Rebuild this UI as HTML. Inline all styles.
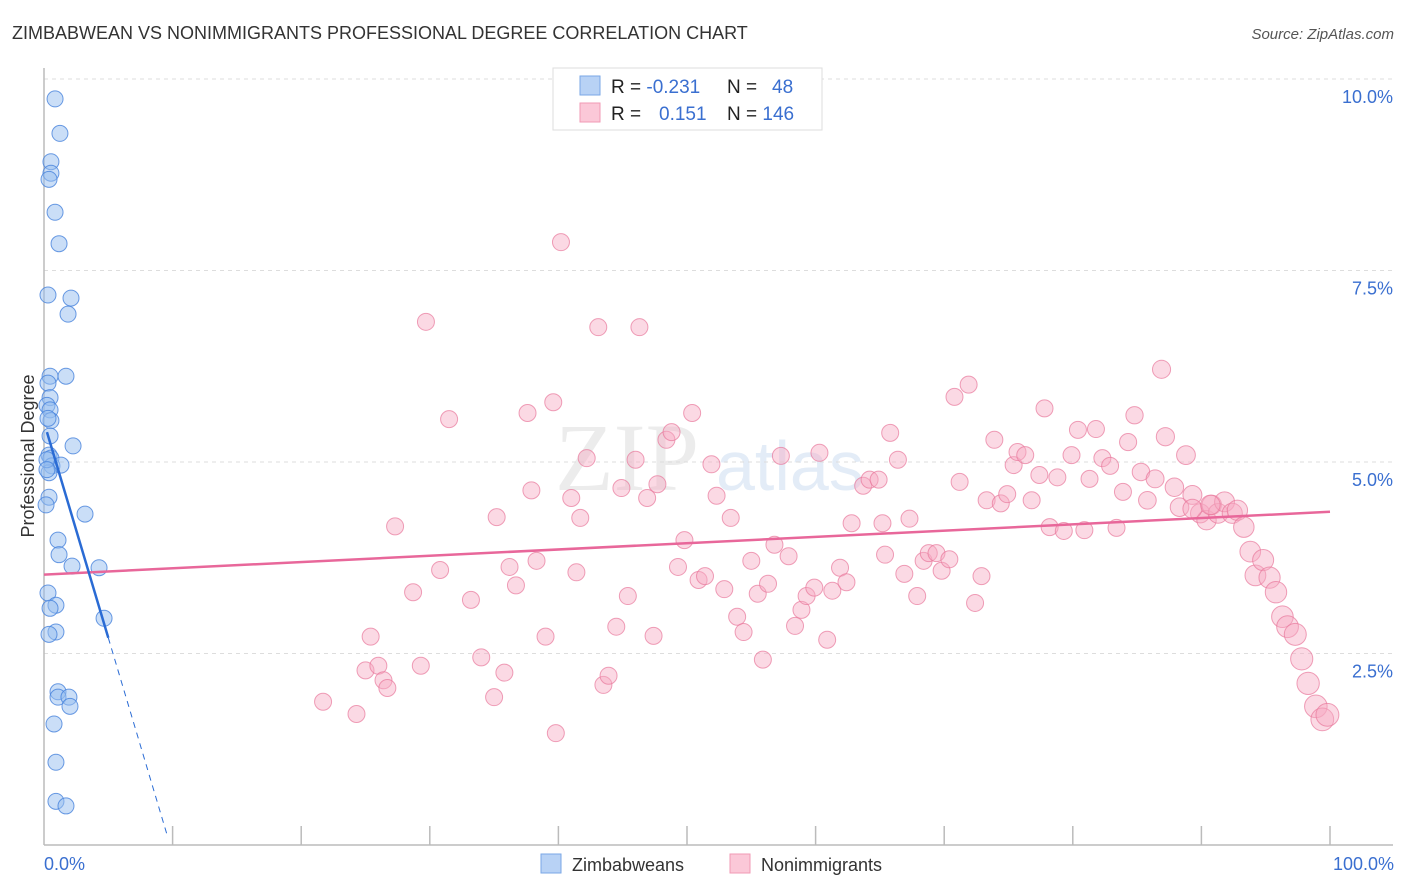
<!DOCTYPE html>
<html><head><meta charset="utf-8">
<style>
body{margin:0;background:#fff;font-family:"Liberation Sans",sans-serif;}
svg{display:block}
</style></head>
<body>
<svg id="chart" width="1406" height="892" xmlns="http://www.w3.org/2000/svg">
<text x="12" y="39" font-size="18" fill="#333">ZIMBABWEAN VS NONIMMIGRANTS PROFESSIONAL DEGREE CORRELATION CHART</text>
<text x="1394" y="39" font-size="15" fill="#555" font-style="italic" text-anchor="end">Source: ZipAtlas.com</text>
<text x="555" y="490" font-size="96" fill="#ececec" font-family="Liberation Serif,serif">ZIP</text>
<text x="716" y="490" font-size="70" fill="#e3ecf7">atlas</text>
<g id="grid"></g>
<g id="axes"></g>
<g id="pts"></g>
<g id="trend"></g>
<text transform="translate(34,456) rotate(-90)" font-size="18" fill="#333" text-anchor="middle">Professional Degree</text>
<text x="44" y="870" font-size="18" fill="#3a6fd0">0.0%</text>
<text x="1394" y="870" font-size="18" fill="#3a6fd0" text-anchor="end">100.0%</text>
<g>
<rect x="553" y="68" width="269" height="62" fill="#fff" stroke="#ddd"/>
<rect x="580" y="76" width="20" height="19" fill="#b8d2f5" stroke="#7aa7e6"/>
<rect x="580" y="103" width="20" height="19" fill="#fbc8d8" stroke="#f09ab4"/>
<text x="611" y="93" font-size="19" fill="#222">R = <tspan fill="#3a6fd0">-0.231</tspan></text>
<text x="727" y="93" font-size="19" fill="#222">N = <tspan fill="#3a6fd0" x="772">48</tspan></text>
<text x="611" y="120" font-size="19" fill="#222">R = <tspan fill="#3a6fd0" x="659">0.151</tspan></text>
<text x="727" y="120" font-size="19" fill="#222">N = <tspan fill="#3a6fd0">146</tspan></text>
</g>
<g>
<rect x="541" y="854" width="20" height="19" fill="#b8d2f5" stroke="#7aa7e6"/>
<text x="572" y="871" font-size="18" fill="#333">Zimbabweans</text>
<rect x="730" y="854" width="20" height="19" fill="#fbc8d8" stroke="#f09ab4"/>
<text x="761" y="871" font-size="18" fill="#333">Nonimmigrants</text>
</g>
</svg>
<script>
const yTicks=[2.5,5.0,7.5,10.0];
const yTickLabels=["2.5%","5.0%","7.5%","10.0%"];
const xTicks=[10,20,30,40,50,60,70,80,90,100];
const blueX=[0.86,1.24,0.54,0.54,0.39,0.86,1.17,0.31,2.10,1.87,0.47,1.71,0.31,0.47,0.23,0.47,0.54,0.47,0.39,0.54,0.62,1.32,2.26,0.39,0.39,0.16,3.19,1.09,1.17,2.18,4.28,0.31,0.93,0.47,0.93,0.39,4.67,1.09,1.09,1.94,2.02,0.78,0.93,0.93,1.71,0.23,0.23,0.31];
const blueY=[9.74,9.29,8.92,8.77,8.69,8.26,7.85,7.18,7.14,6.93,6.12,6.12,6.03,5.84,5.74,5.68,5.54,5.34,5.09,5.05,4.95,4.96,5.21,4.86,4.54,4.44,4.32,3.98,3.79,3.64,3.62,3.29,3.13,3.09,2.78,2.75,2.96,2.00,1.93,1.93,1.81,1.58,1.08,0.57,0.51,5.03,4.90,5.57];
const pinkX=[21.7,24.3,25.0,26.0,26.4,26.7,25.4,27.3,28.7,29.3,29.7,30.8,31.5,33.2,34.0,35.0,35.2,35.8,36.2,36.7,37.6,37.9,38.3,39.0,39.6,39.8,40.2,41.0,41.4,41.7,42.2,43.1,43.5,43.9,44.5,44.9,45.4,46.0,46.3,46.9,47.4,47.7,48.4,48.8,49.3,49.8,50.4,50.9,51.4,51.9,52.3,52.9,53.4,53.9,54.4,55.0,55.5,55.9,56.3,56.8,57.3,57.9,58.4,58.9,59.3,59.9,60.3,60.9,61.3,61.9,62.4,62.8,63.7,64.2,64.9,65.2,65.4,65.8,66.4,66.9,67.3,67.9,68.4,68.8,69.4,69.8,70.4,70.8,71.2,71.9,72.4,72.9,73.3,73.9,74.4,74.9,75.4,75.7,76.3,76.8,77.4,77.8,78.2,78.8,79.3,79.9,80.4,80.9,81.3,81.8,82.3,82.9,83.4,83.9,84.3,84.8,85.3,85.8,86.4,86.9,87.2,87.9,88.3,88.8,89.3,89.9,90.4,90.8,91.3,91.8,92.4,92.8,93.3,93.8,94.2,94.8,95.3,95.8,96.3,96.7,97.3,97.8,98.3,98.9,99.4,99.8,89.3,90.7];
const pinkY=[1.87,1.71,2.28,2.34,2.15,2.05,2.72,4.16,3.30,2.34,6.83,3.59,5.56,3.20,2.45,1.93,4.28,2.25,3.63,3.39,5.64,4.63,3.71,2.72,5.78,1.46,7.87,4.53,3.56,4.27,5.05,6.76,2.09,2.21,2.85,4.66,3.25,5.03,6.76,4.53,2.73,4.71,5.29,5.39,3.63,3.98,5.64,3.46,3.51,4.97,4.56,3.34,4.27,2.98,2.78,3.71,3.28,2.42,3.41,3.92,5.08,3.77,2.86,3.07,3.25,3.36,5.12,2.68,3.32,3.62,3.43,4.20,4.69,4.77,4.77,4.20,3.79,5.38,5.03,3.54,4.26,3.25,3.71,3.81,3.81,3.58,3.73,5.85,4.74,6.01,3.16,3.51,4.50,5.29,4.46,4.58,4.96,5.13,5.09,4.50,4.83,5.70,4.15,4.80,4.10,5.09,5.42,4.11,4.78,5.43,5.05,4.95,4.14,4.61,5.26,5.61,4.87,4.50,4.78,6.21,5.33,4.67,4.41,5.09,4.57,4.33,4.24,4.44,4.33,4.48,4.33,4.37,4.15,3.83,3.52,3.72,3.49,3.30,2.98,2.85,2.75,2.43,2.11,1.81,1.64,1.70,4.39,4.44];
const pinkTrend=[3.53,4.35];
const blueTrend=[5.52,-0.563];

const NS="http://www.w3.org/2000/svg";
const X0=44,X1=1330,Y0=845,Y10=79;
const sx=v=>X0+(X1-X0)*v/100;
const sy=v=>Y0-(Y0-Y10)*v/10;
function mk(tag,attrs,parent){const e=document.createElementNS(NS,tag);for(const k in attrs)e.setAttribute(k,attrs[k]);document.getElementById(parent).appendChild(e);return e;}

const topGrid=mk('line',{x1:X0,x2:1393,y1:sy(10),y2:sy(10),stroke:'#ddd','stroke-dasharray':'4,4'},'grid');


yTicks.forEach((t,i)=>{
  const g=mk('line',{x1:X0,x2:1393,y1:sy(t),y2:sy(t),stroke:'#ddd','stroke-dasharray':'4,4'},'grid');
  
  
  const l=mk('text',{x:1393,y:sy(t)+24,'font-size':18,fill:'#3a6fd0','text-anchor':'end'},'grid');
  l.textContent=yTickLabels[i];
  
  
});
const ya=mk('line',{x1:X0,x2:X0,y1:68,y2:Y0,stroke:'#bbb','stroke-width':1.5},'axes');


const xa=mk('line',{x1:X0,x2:1393,y1:Y0,y2:Y0,stroke:'#bbb','stroke-width':1.5},'axes');


xTicks.forEach(t=>{
  const tk=mk('line',{x1:sx(t),x2:sx(t),y1:826,y2:Y0,stroke:'#bbb','stroke-width':1.5},'axes');
  
  
});
pinkX.forEach((x,i)=>{
  const r=8.5+Math.max(0,x-84)/16*3;
  const c=mk('circle',{cx:sx(x),cy:sy(pinkY[i]),r:r,fill:'rgba(247,170,195,0.45)',stroke:'rgba(232,120,155,0.7)','stroke-width':1},'pts');
  
  
});
blueX.forEach((x,i)=>{
  const c=mk('circle',{cx:sx(x),cy:sy(blueY[i]),r:8,fill:'rgba(150,190,240,0.5)',stroke:'rgba(70,130,220,0.8)','stroke-width':1},'pts');
  
  
});
const pl=mk('line',{x1:sx(0),y1:sy(pinkTrend[0]),x2:sx(100),y2:sy(pinkTrend[1]),stroke:'#e8679a','stroke-width':2.5},'trend');


const bf=x=>blueTrend[0]+blueTrend[1]*x;
const bl=mk('line',{x1:sx(0.23),y1:sy(bf(0.23)),x2:sx(5),y2:sy(bf(5)),stroke:'#2a6bd4','stroke-width':2.5},'trend');


const xe=(0.1-blueTrend[0])/blueTrend[1];
const bd=mk('line',{x1:sx(5),y1:sy(bf(5)),x2:sx(xe),y2:sy(bf(xe)),stroke:'#2a6bd4','stroke-width':1,'stroke-dasharray':'6,5'},'trend');


</script>
</body></html>
